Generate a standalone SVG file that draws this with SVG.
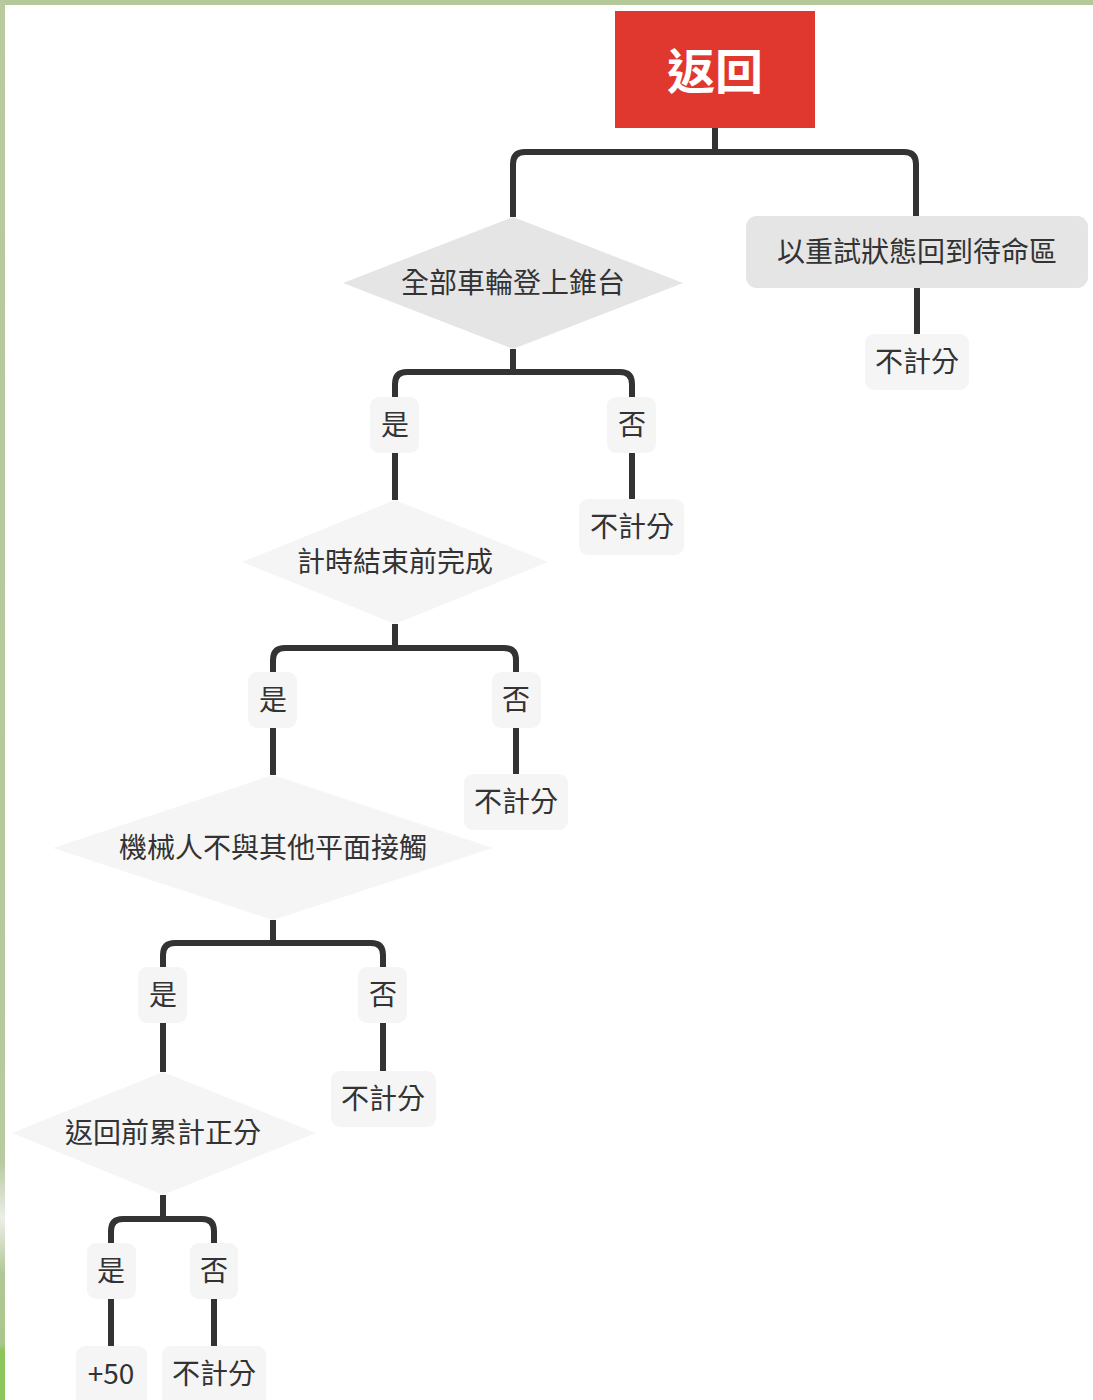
<svg xmlns="http://www.w3.org/2000/svg" width="1093" height="1400" viewBox="0 0 1093 1400">
<style>
.t{font-family:"Noto Sans CJK TC","Noto Sans CJK SC",sans-serif;font-size:28px;fill:#333;text-anchor:middle;dominant-baseline:central}
.root{font-family:"Noto Sans CJK TC","Noto Sans CJK SC",sans-serif;font-size:48px;font-weight:bold;fill:#fff;text-anchor:middle;dominant-baseline:central}
.lbl{fill:#f5f5f5}
.d1{fill:#e5e5e5}
.d2{fill:#f5f5f5}
.c{fill:none;stroke:#333;stroke-width:6;stroke-linejoin:round}
</style>
<defs>
<linearGradient id="lg" x1="0" y1="0" x2="0" y2="1">
<stop offset="0" stop-color="#b8ca9e"/>
<stop offset="0.6" stop-color="#b5c99b"/>
<stop offset="0.83" stop-color="#b8caa0"/>
<stop offset="0.87" stop-color="#eceee8"/>
<stop offset="0.91" stop-color="#b1c796"/>
<stop offset="0.96" stop-color="#aac78c"/>
<stop offset="0.965" stop-color="#8cc65a"/>
<stop offset="1" stop-color="#8cc65a"/>
</linearGradient>
</defs>
<rect x="0" y="0" width="1093" height="1400" fill="#fff"/>
<rect x="0" y="0" width="1093" height="5" fill="#b5c89a"/>
<rect x="0" y="0" width="5" height="1400" fill="url(#lg)"/>
<g id="connectors">
<path class="c" d="M715 128 V152"/>
<path class="c" d="M513 217 V164 Q513 152 525 152 H904 Q916 152 916 164 V216"/>
<path class="c" d="M917 288 V334"/>
<path class="c" d="M513 349 V372"/>
<path class="c" d="M395 397 V384 Q395 372 407 372 H620 Q632 372 632 384 V397"/>
<path class="c" d="M632 453 V499"/>
<path class="c" d="M395 453 V500"/>
<path class="c" d="M395 624 V648"/>
<path class="c" d="M273 672 V660 Q273 648 285 648 H504 Q516 648 516 660 V672"/>
<path class="c" d="M516 728 V774"/>
<path class="c" d="M273 728 V775"/>
<path class="c" d="M273 920 V943"/>
<path class="c" d="M163 967 V955 Q163 943 175 943 H371 Q383 943 383 955 V967"/>
<path class="c" d="M383 1023 V1071"/>
<path class="c" d="M163 1023 V1072"/>
<path class="c" d="M163 1195 V1219"/>
<path class="c" d="M111 1243 V1231 Q111 1219 123 1219 H202 Q214 1219 214 1231 V1243"/>
<path class="c" d="M111 1299 V1346"/>
<path class="c" d="M214 1299 V1346"/>
</g>
<g id="root"><rect x="615" y="11" width="200" height="117" fill="#e0372e"/><text class="root" x="715" y="68">返回</text></g>
<g id="q1"><polygon class="d1" points="513,217 683,283 513,349 343,283"/><text class="t" x="513" y="281">全部車輪登上錐台</text></g>
<g id="retry"><rect class="d1" x="746" y="216" width="342" height="72" rx="11"/><text class="t" x="917" y="250">以重試狀態回到待命區</text></g>
<g id="retry-no"><rect class="lbl" x="865" y="334" width="104" height="56" rx="9"/><text class="t" x="917" y="360">不計分</text></g>
<g id="q1-yes"><rect class="lbl" x="370" y="397" width="49" height="56" rx="9"/><text class="t" x="395" y="423">是</text></g>
<g id="q1-no"><rect class="lbl" x="607" y="397" width="49" height="56" rx="9"/><text class="t" x="632" y="423">否</text></g>
<g id="q1-no-score"><rect class="lbl" x="579" y="499" width="105" height="56" rx="9"/><text class="t" x="632" y="525">不計分</text></g>
<g id="q2"><polygon class="d2" points="395,500 548,562 395,624 242,562"/><text class="t" x="395" y="560">計時結束前完成</text></g>
<g id="q2-yes"><rect class="lbl" x="248" y="672" width="49" height="56" rx="9"/><text class="t" x="273" y="698">是</text></g>
<g id="q2-no"><rect class="lbl" x="492" y="672" width="49" height="56" rx="9"/><text class="t" x="516" y="698">否</text></g>
<g id="q2-no-score"><rect class="lbl" x="464" y="774" width="104" height="56" rx="9"/><text class="t" x="516" y="800">不計分</text></g>
<g id="q3"><polygon class="d2" points="273,775 493,848 273,920 53,848"/><text class="t" x="273" y="846">機械人不與其他平面接觸</text></g>
<g id="q3-yes"><rect class="lbl" x="138" y="967" width="49" height="56" rx="9"/><text class="t" x="163" y="993">是</text></g>
<g id="q3-no"><rect class="lbl" x="358" y="967" width="49" height="56" rx="9"/><text class="t" x="383" y="993">否</text></g>
<g id="q3-no-score"><rect class="lbl" x="331" y="1071" width="105" height="56" rx="9"/><text class="t" x="383" y="1097">不計分</text></g>
<g id="q4"><polygon class="d2" points="163,1072 316,1133 163,1195 12,1133"/><text class="t" x="163" y="1131">返回前累計正分</text></g>
<g id="q4-yes"><rect class="lbl" x="87" y="1243" width="49" height="56" rx="9"/><text class="t" x="111" y="1269">是</text></g>
<g id="q4-no"><rect class="lbl" x="190" y="1243" width="48" height="56" rx="9"/><text class="t" x="214" y="1269">否</text></g>
<g id="plus50"><rect class="lbl" x="76" y="1346" width="71" height="62" rx="9"/><text class="t" x="111" y="1372">+50</text></g>
<g id="q4-no-score"><rect class="lbl" x="162" y="1346" width="104" height="62" rx="9"/><text class="t" x="214" y="1372">不計分</text></g>
</svg>
